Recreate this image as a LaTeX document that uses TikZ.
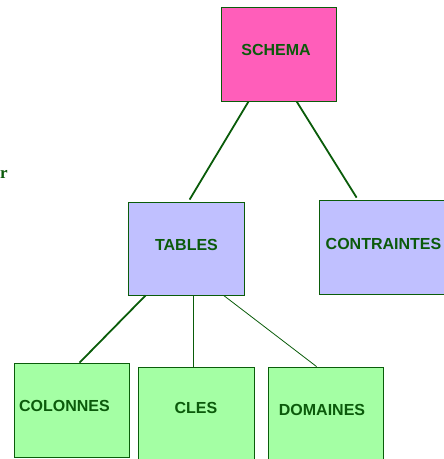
\documentclass[tikz,border=0pt]{standalone}
\usepackage{fontspec}
\setmainfont{Liberation Sans}
\newfontfamily\serifr{Liberation Serif}
\definecolor{boxline}{HTML}{0A5C0A}
\definecolor{txtgreen}{HTML}{0B5A0B}
\definecolor{pinkfill}{HTML}{FF5EBA}
\definecolor{bluefill}{HTML}{C0C0FF}
\definecolor{greenfill}{HTML}{A4FFA4}
\begin{document}
\begin{tikzpicture}[x=1pt, y=-1pt,
  box/.style={rectangle, draw=boxline, line width=0.8pt, inner sep=0pt, minimum width=115pt, minimum height=94pt},
  lbl/.style={inner sep=0pt, text=txtgreen, font=\fontsize{16}{19}\selectfont\bfseries},
  link/.style={draw=boxline, line width=1.8pt},
  thinlink/.style={draw=boxline, line width=0.8pt}]
\clip (0,0) rectangle (444,459);
\node[box, fill=pinkfill] (schema) at (278.5,54){};
\node[box, fill=bluefill, minimum width=116pt, minimum height=93pt] (tables) at (186,248.5){};
\node[box, fill=bluefill, minimum width=131pt] (contraintes) at (384.5,247){};
\node[box, fill=greenfill] (colonnes) at (71.5,410){};
\node[box, fill=greenfill, minimum width=116pt] (cles) at (196,414){};
\node[box, fill=greenfill] (domaines) at (325.5,414){};
\node[lbl] (tschema) at (276,50){SCHEMA};
\node[lbl] (ttables) at (186.5,244.5){TABLES};
\node[lbl] (tcontraintes) at (383.5,244){CONTRAINTES};
\node[lbl] (tcolonnes) at (64.5,406){COLONNES};
\node[lbl] (tcles) at (196,407.5){CLES};
\node[lbl] (tdomaines) at (322,410){DOMAINES};
\node[inner sep=0pt, text=txtgreen, font=\serifr\fontsize{17}{20}\selectfont\bfseries, anchor=base west] (tr) at (0,178.5){r};
\draw[link]([xshift=28pt]schema.south west) -- ([xshift=62pt, yshift=2pt]tables.north west);
\draw[link]([xshift=76pt]schema.south west) -- ([xshift=38pt, yshift=2pt]contraintes.north west);
\draw[link]([xshift=18pt]tables.south west) -- ([xshift=66pt]colonnes.north west);
\draw[link, line width=1.3pt]([xshift=66pt]tables.south west) -- ([xshift=56pt]cles.north west);
\draw[thinlink]([xshift=96pt]tables.south west) -- ([xshift=49pt]domaines.north west);
\end{tikzpicture}
\end{document}
